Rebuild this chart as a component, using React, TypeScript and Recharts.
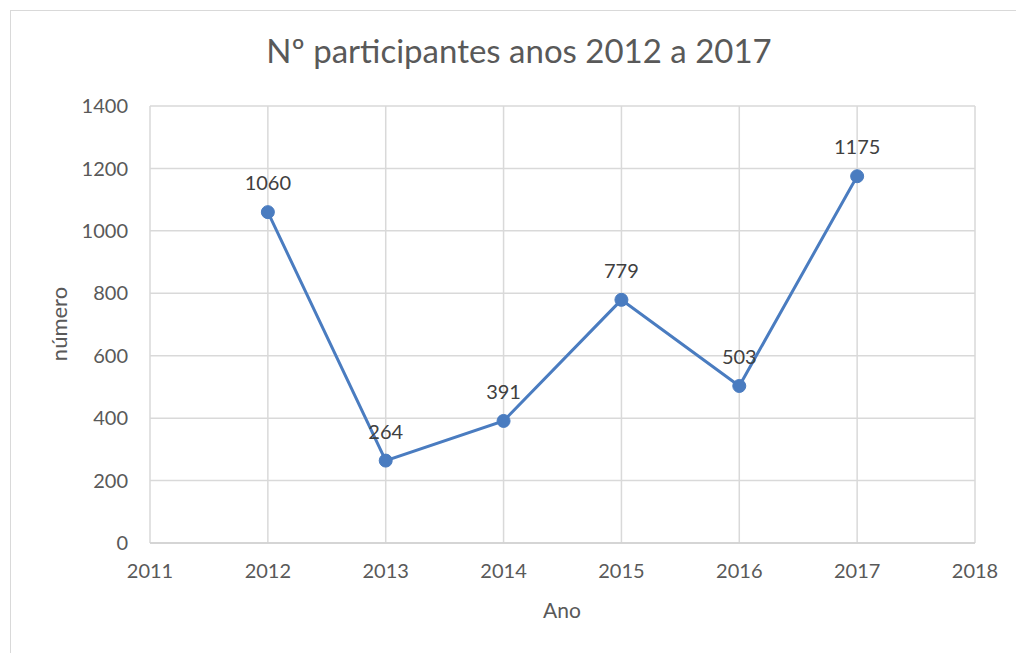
import { LineChart, Line, XAxis, YAxis, CartesianGrid, LabelList } from 'recharts';

const anos = [2012, 2013, 2014, 2015, 2016, 2017];
const participantes = [1060, 264, 391, 779, 503, 1175];
const xTicks = [2011, 2012, 2013, 2014, 2015, 2016, 2017, 2018];
const yTicks = [0, 200, 400, 600, 800, 1000, 1200, 1400];

const data = anos.map((ano, i) => ({ ano, valor: participantes[i] }));

const FONT = 'Lato, "Open Sans", sans-serif';
const GREY = '#595959';

export default function App() {
  return (
    <div style={{ position: 'absolute', left: 0, top: 0, width: 1016, height: 653, background: '#fff', fontFamily: FONT }}>
      <div style={{ position: 'absolute', left: 10, top: 10, width: 1020, height: 660, border: '1.5px solid #d9d9d9' }} />
      <div style={{ position: 'absolute', left: 0, width: 1038, top: 30, textAlign: 'center', fontSize: 33, color: GREY, lineHeight: '40px' }}>
        Nº participantes anos 2012 a 2017
      </div>
      <div style={{ position: 'absolute', left: 562, top: 609, transform: 'translate(-50%, -50%)', fontSize: 21, color: GREY }}>
        Ano
      </div>
      <div style={{ position: 'absolute', left: 58, top: 324, transform: 'translate(-50%, -50%) rotate(-90deg)', fontSize: 22, color: GREY, whiteSpace: 'nowrap' }}>
        número
      </div>
      <div style={{ position: 'absolute', left: 0, top: 0 }}>
        <LineChart width={1016} height={653} data={data} margin={{ top: 106, right: 41, bottom: 70, left: 90 }}>
          <CartesianGrid stroke="#d9d9d9" strokeWidth={1.5} />
          <XAxis
            dataKey="ano"
            type="number"
            domain={[2011, 2018]}
            ticks={xTicks}
            height={40}
            tickLine={false}
            tickSize={0}
            tickMargin={21}
            axisLine={{ stroke: '#d0d0d0', strokeWidth: 1.5 }}
            tick={{ fill: GREY, fontSize: 20, fontFamily: FONT }}
            interval={0}
          />
          <YAxis
            type="number"
            domain={[0, 1400]}
            ticks={yTicks}
            width={60}
            tickLine={false}
            axisLine={false}
            tickSize={0}
            tickMargin={22}
            tick={{ fill: GREY, fontSize: 20, fontFamily: FONT }}
            interval={0}
          />
          <Line
            dataKey="valor"
            stroke="#4A7CC0"
            strokeWidth={3}
            dot={{ r: 6.5, fill: '#4A7CC0', stroke: '#4A7CC0', strokeWidth: 1 }}
            isAnimationActive={false}
          >
            <LabelList dataKey="valor" position="top" offset={22} fill="#404040" fontSize={20} fontFamily={FONT} />
          </Line>
        </LineChart>
      </div>
    </div>
  );
}
